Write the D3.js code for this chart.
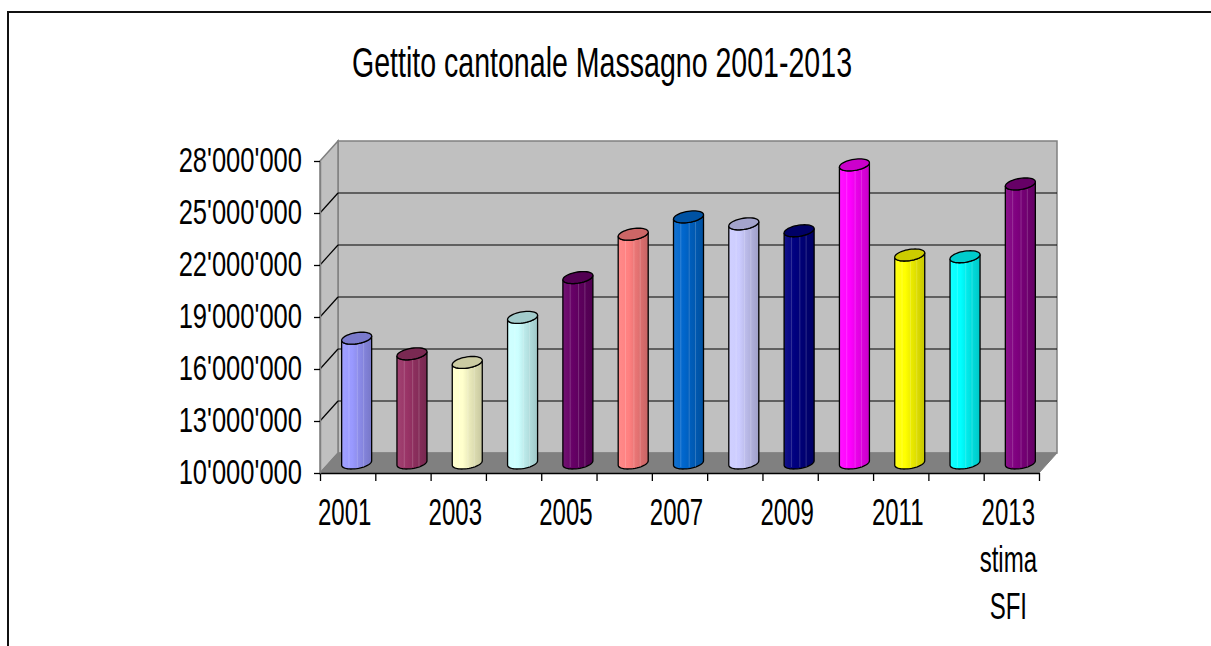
<!DOCTYPE html>
<html>
<head>
<meta charset="utf-8">
<script src="https://cdn.jsdelivr.net/npm/d3@7"></script>
<style>
  body { margin: 0; background: #fff; }
  text { font-family: "Liberation Sans", Arial, sans-serif; fill: #000; }
</style>
</head>
<body>
<div class="container"></div>
<script>
// gettito cantonale, one cylinder per year
var years = ["2001","2002","2003","2004","2005","2006","2007","2008","2009","2010","2011","2012","2013"];
var gettito = [17200000, 16300000, 15800000, 18400000, 20700000, 23200000, 24200000,
               23800000, 23400000, 27200000, 22000000, 21900000, 26100000];
var barColors = ["#9999FF","#993366","#FFFFCC","#CCFFFF","#660066","#FF8080","#0066CC",
                 "#CCCCFF","#000080","#FF00FF","#FFFF00","#00FFFF","#800080"];
var yTicks = [10000000, 13000000, 16000000, 19000000, 22000000, 25000000, 28000000];
var xLabels = {"2001": ["2001"], "2003": ["2003"], "2005": ["2005"], "2007": ["2007"],
               "2009": ["2009"], "2011": ["2011"], "2013": ["2013", "stima", "SFI"]};

var W = 1211, H = 646;
var svg = d3.select(".container").append("svg")
  .attr("width", W).attr("height", H);

// depth offset of the 3d box
var dx = 18, dy = -20;

var x = d3.scaleBand().domain(years).range([320, 1039]).padding(0);
var y = d3.scaleLinear().domain([10000000, 28000000]).range([473, 161]);
var x0 = x.range()[0], x1 = x.range()[1];
var yb = y(10000000), yt = y(28000000);

// outer frame
svg.append("rect")
  .attr("x", 8).attr("y", 12).attr("width", W + 20).attr("height", H + 20)
  .attr("fill", "none").attr("stroke", "#111").attr("stroke-width", 2);

function label(g, px, py, str, size, sx, anchor) {
  g.append("text")
    .attr("transform", "translate(" + px + "," + py + ") scale(" + sx + ",1)")
    .attr("text-anchor", anchor)
    .style("font-size", size + "px")
    .text(str);
}

label(svg, 602, 77, "Gettito cantonale Massagno 2001-2013", 42, 0.68, "middle");

// walls and floor
var pts = function(a) { return a.map(function(p) { return p.join(","); }).join(" "); };
svg.append("polygon")
  .attr("points", pts([[x0 + dx, yt + dy], [x1 + dx, yt + dy], [x1 + dx, yb + dy], [x0 + dx, yb + dy]]))
  .attr("fill", "#C0C0C0").attr("stroke", "#808080").attr("stroke-width", 1.5);
svg.append("polygon")
  .attr("points", pts([[x0, yt], [x0 + dx, yt + dy], [x0 + dx, yb + dy], [x0, yb]]))
  .attr("fill", "#C0C0C0").attr("stroke", "#808080").attr("stroke-width", 1.5);
svg.append("polygon")
  .attr("points", pts([[x0, yb], [x0 + dx, yb + dy], [x1 + dx, yb + dy], [x1, yb]]))
  .attr("fill", "#808080").attr("stroke", "#808080").attr("stroke-width", 1);

// gridlines
var inner = yTicks.filter(function(d) { return d > 10000000 && d < 28000000; });
svg.selectAll("line.grid").data(inner).enter().append("line")
  .attr("x1", x0 + dx).attr("x2", x1 + dx)
  .attr("y1", function(d) { return y(d) + dy; }).attr("y2", function(d) { return y(d) + dy; })
  .attr("stroke", "#000").attr("stroke-width", 1.2);
svg.selectAll("line.side").data(inner).enter().append("line")
  .attr("x1", x0).attr("x2", x0 + dx)
  .attr("y1", function(d) { return y(d); }).attr("y2", function(d) { return y(d) + dy; })
  .attr("stroke", "#000").attr("stroke-width", 1.2);

// cylinders
var defs = svg.append("defs");
var rx = 14, ddx = dx * 0.3, ddy = dy * 0.3;
var t0 = Math.atan2(ddx, rx);
function pt(cx, cy, t) {
  return [cx + rx * Math.cos(t) + ddx * Math.sin(t), cy + ddy * Math.sin(t)];
}
function shade(c, k) {
  var r = d3.rgb(c);
  return d3.rgb(r.r * k, r.g * k, r.b * k);
}

years.forEach(function(yr, i) {
  var c = barColors[i];
  var g = defs.append("linearGradient").attr("id", "g" + i)
    .attr("x1", "0%").attr("x2", "100%").attr("y1", "0%").attr("y2", "0%");
  g.append("stop").attr("offset", "0%").attr("stop-color", d3.interpolateRgb(c, "#fff")(0.08));
  g.append("stop").attr("offset", "35%").attr("stop-color", c);
  g.append("stop").attr("offset", "55%").attr("stop-color", shade(c, 0.92));
  g.append("stop").attr("offset", "100%").attr("stop-color", shade(c, 0.78));
});

var line = d3.line();
var bars = svg.selectAll("g.bar").data(years).enter().append("g").attr("class", "bar");
bars.each(function(yr, i) {
  var g = d3.select(this);
  var cx = x(yr) + x.bandwidth() / 2 + dx / 2;
  var cyTop = y(gettito[i]) + dy / 2, cyBot = yb + dy / 2;
  var body = [], n = 24, k, t;
  for (k = 0; k <= n; k++) {
    t = t0 + Math.PI + Math.PI * k / n;
    body.push(pt(cx, cyBot, t));
  }
  for (k = 0; k <= n; k++) {
    t = t0 + 2 * Math.PI - Math.PI * k / n;
    body.push(pt(cx, cyTop, t));
  }
  g.append("path").attr("d", line(body) + "Z")
    .attr("fill", "url(#g" + i + ")").attr("stroke", "#000").attr("stroke-width", 1.3);
  // faint highlight stripes
  [-0.55, 0.05, 0.5].forEach(function(f) {
    g.append("line")
      .attr("x1", cx + f * rx).attr("x2", cx + f * rx)
      .attr("y1", cyTop + 5).attr("y2", cyBot + 4)
      .attr("stroke", "#fff").attr("stroke-opacity", 0.18).attr("stroke-width", 1);
  });
  var cap = [];
  for (k = 0; k <= 2 * n; k++) cap.push(pt(cx, cyTop, Math.PI * k / n));
  g.append("path").attr("d", line(cap) + "Z")
    .attr("fill", shade(barColors[i], 0.8)).attr("stroke", "#000").attr("stroke-width", 1.3);
});

// axes
var xAxis = d3.axisBottom(d3.scaleLinear().domain([0, years.length]).range([x0, x1]))
  .ticks(years.length).tickSize(8).tickFormat("").tickSizeOuter(0);
svg.append("g").attr("transform", "translate(0," + yb + ")").call(xAxis)
  .call(function(a) { a.selectAll("path,line").attr("stroke", "#000").attr("stroke-width", 1.3); });

var yAxis = d3.axisLeft(y).tickValues(yTicks).tickSize(6).tickFormat("").tickSizeOuter(0);
svg.append("g").attr("transform", "translate(" + x0 + ",0)").call(yAxis)
  .call(function(a) {
    a.select("path").attr("stroke", "#808080").attr("stroke-width", 1.5);
    a.selectAll("line").attr("stroke", "#000").attr("stroke-width", 1.3);
  });

var fmt = d3.format(",");
yTicks.forEach(function(v) {
  label(svg, 302, y(v) + 11, fmt(v).replace(/,/g, "'"), 35, 0.73, "end");
});

years.forEach(function(yr) {
  if (!xLabels[yr]) return;
  xLabels[yr].forEach(function(s, j) {
    label(svg, x(yr) + x.bandwidth() / 2 - 3, 525 + j * 47, s, 37, 0.65, "middle");
  });
});
</script>
</body>
</html>
